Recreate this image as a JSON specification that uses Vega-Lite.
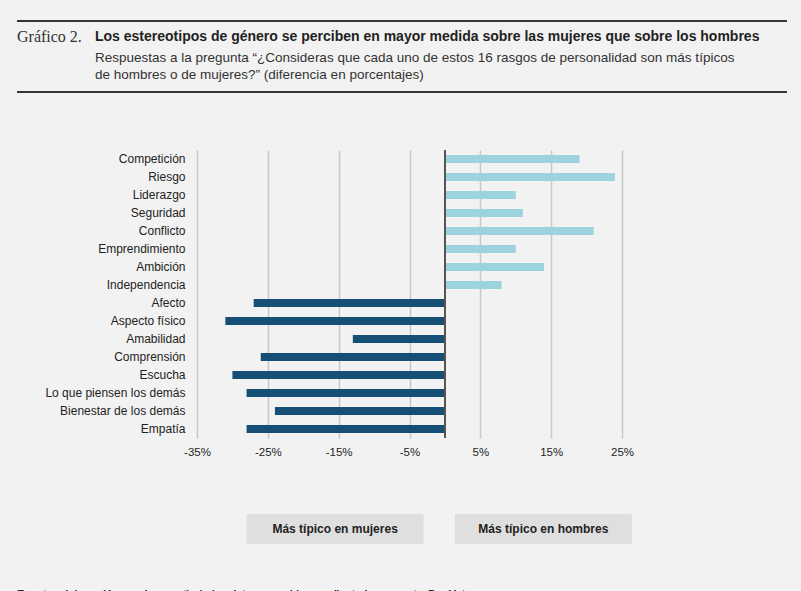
{
  "$schema": "https://vega.github.io/schema/vega-lite/v6.json",
  "background": "#f2f2f2",
  "padding": {"left": 15, "top": 20, "right": 0, "bottom": 0},
  "config": {"view": {"stroke": null}, "font": "Liberation Sans"},
  "spacing": 56,
  "vconcat": [
    {
      "width": 590, "height": 72,
      "data": {"values": [{"x": 0}]},
      "layer": [
        {"mark": {"type": "rule", "stroke": "#3a3533", "strokeWidth": 2, "clip": false}, "encoding": {"x": {"datum": 0, "type": "quantitative", "scale": {"domain": [180, 770], "nice": false, "zero": false}, "axis": null}, "x2": {"datum": 770}, "y": {"datum": 0, "type": "quantitative", "scale": {"domain": [0, 72], "nice": false, "reverse": true}, "axis": null}}},
        {"mark": {"type": "rule", "stroke": "#3a3533", "strokeWidth": 2, "clip": false}, "encoding": {"x": {"datum": 0, "type": "quantitative"}, "x2": {"datum": 770}, "y": {"datum": 71, "type": "quantitative"}}},
        {"mark": {"type": "text", "text": "Gráfico 2.", "font": "Liberation Serif", "fontSize": 16, "align": "left", "baseline": "middle", "color": "#333", "clip": false}, "encoding": {"x": {"datum": 0, "type": "quantitative"}, "y": {"datum": 16, "type": "quantitative"}}},
        {"mark": {"type": "text", "text": "Los estereotipos de género se perciben en mayor medida sobre las mujeres que sobre los hombres", "fontSize": 14, "fontWeight": "bold", "align": "left", "baseline": "middle", "color": "#222", "clip": false}, "encoding": {"x": {"datum": 78, "type": "quantitative"}, "y": {"datum": 16, "type": "quantitative"}}},
        {"mark": {"type": "text", "text": ["Respuestas a la pregunta “¿Consideras que cada uno de estos 16 rasgos de personalidad son más típicos", "de hombres o de mujeres?” (diferencia en porcentajes)"], "fontSize": 13.5, "lineHeight": 17, "align": "left", "baseline": "middle", "color": "#333", "clip": false}, "encoding": {"x": {"datum": 78, "type": "quantitative"}, "y": {"datum": 37, "type": "quantitative"}}}
      ]
    },
    {
      "width": 425, "height": 288,
      "data": {"values": [
        {"rasgo": "Competición", "valor": 19, "tipo": "Rasgos agénticos"},
        {"rasgo": "Riesgo", "valor": 24, "tipo": "Rasgos agénticos"},
        {"rasgo": "Liderazgo", "valor": 10, "tipo": "Rasgos agénticos"},
        {"rasgo": "Seguridad", "valor": 11, "tipo": "Rasgos agénticos"},
        {"rasgo": "Conflicto", "valor": 21, "tipo": "Rasgos agénticos"},
        {"rasgo": "Emprendimiento", "valor": 10, "tipo": "Rasgos agénticos"},
        {"rasgo": "Ambición", "valor": 14, "tipo": "Rasgos agénticos"},
        {"rasgo": "Independencia", "valor": 8, "tipo": "Rasgos agénticos"},
        {"rasgo": "Afecto", "valor": -27, "tipo": "Rasgos comunales"},
        {"rasgo": "Aspecto físico", "valor": -31, "tipo": "Rasgos comunales"},
        {"rasgo": "Amabilidad", "valor": -13, "tipo": "Rasgos comunales"},
        {"rasgo": "Comprensión", "valor": -26, "tipo": "Rasgos comunales"},
        {"rasgo": "Escucha", "valor": -30, "tipo": "Rasgos comunales"},
        {"rasgo": "Lo que piensen los demás", "valor": -28, "tipo": "Rasgos comunales"},
        {"rasgo": "Bienestar de los demás", "valor": -24, "tipo": "Rasgos comunales"},
        {"rasgo": "Empatía", "valor": -28, "tipo": "Rasgos comunales"}
      ]},
      "layer": [
        {
          "mark": {"type": "bar", "height": 8},
          "encoding": {
            "y": {"field": "rasgo", "type": "nominal", "sort": null, "title": null,
              "axis": {"domain": false, "ticks": false, "labelFontSize": 12, "labelColor": "#222", "labelPadding": 12, "minExtent": 180, "maxExtent": 180}},
            "x": {"field": "valor", "type": "quantitative", "title": null,
              "scale": {"domain": [-35, 25], "nice": false},
              "axis": {"values": [-35, -30, -25, -20, -15, -10, -5, 0, 5, 10, 15, 20, 25], "labelExpr": "datum.value + '%'", "labelOverlap": false, "domain": false, "ticks": false, "gridColor": "#c8c8c8", "gridWidth": 1.5, "labelFontSize": 11.5, "labelColor": "#222", "labelPadding": 8, "labelFlush": false}},
            "color": {"field": "tipo", "type": "nominal", "title": null,
              "scale": {"domain": ["Rasgos agénticos", "Rasgos comunales"], "range": ["#9dd3df", "#154f75"]},
              "legend": {"orient": "right", "offset": 25, "symbolType": "square", "symbolSize": 150, "labelFontSize": 12, "labelColor": "#222", "rowPadding": 20, "labelOffset": 10}}
          }
        },
        {"mark": {"type": "rule", "stroke": "#555", "strokeWidth": 1.5}, "encoding": {"x": {"datum": 0, "type": "quantitative"}}}
      ]
    },
    {
      "width": 425, "height": 78,
      "data": {"values": [
        {"x1": -28, "x2": -3, "label": "Más típico en mujeres"},
        {"x1": 1.4, "x2": 26.4, "label": "Más típico en hombres"}
      ]},
      "layer": [
        {"mark": {"type": "rect", "color": "#dfdfdf", "clip": false},
          "encoding": {"x": {"field": "x1", "type": "quantitative", "scale": {"domain": [-35, 25], "nice": false, "zero": false}, "axis": null}, "x2": {"field": "x2"}, "y": {"datum": 4, "type": "quantitative", "scale": {"domain": [43, 121], "nice": false, "zero": false, "reverse": true}, "axis": null}, "y2": {"datum": 34}}},
        {"transform": [{"calculate": "(datum.x1 + datum.x2) / 2", "as": "xm"}],
          "mark": {"type": "text", "fontSize": 12, "fontWeight": "bold", "color": "#222", "clip": false},
          "encoding": {"x": {"field": "xm", "type": "quantitative"}, "y": {"datum": 19, "type": "quantitative"}, "text": {"field": "label"}}},
        {"mark": {"type": "text", "text": "Fuente: elaboración propia a partir de los datos recogidos mediante la encuesta GenYstereo.", "fontSize": 11.5, "align": "left", "baseline": "middle", "color": "#222", "clip": false},
          "encoding": {"x": {"datum": -60.42, "type": "quantitative"}, "y": {"datum": 85, "type": "quantitative"}}},
        {"mark": {"type": "rule", "stroke": "#3a3533", "strokeWidth": 2, "clip": false},
          "encoding": {"x": {"datum": -60.42, "type": "quantitative"}, "x2": {"datum": 48.3}, "y": {"datum": 95, "type": "quantitative"}}},
        {"mark": {"type": "text", "text": "El Observatorio Social de la Fundación “la Caixa”.", "fontSize": 11.5, "align": "right", "baseline": "middle", "color": "#222", "clip": false},
          "encoding": {"x": {"datum": 48.3, "type": "quantitative"}, "y": {"datum": 108, "type": "quantitative"}}}
      ]
    }
  ]
}
